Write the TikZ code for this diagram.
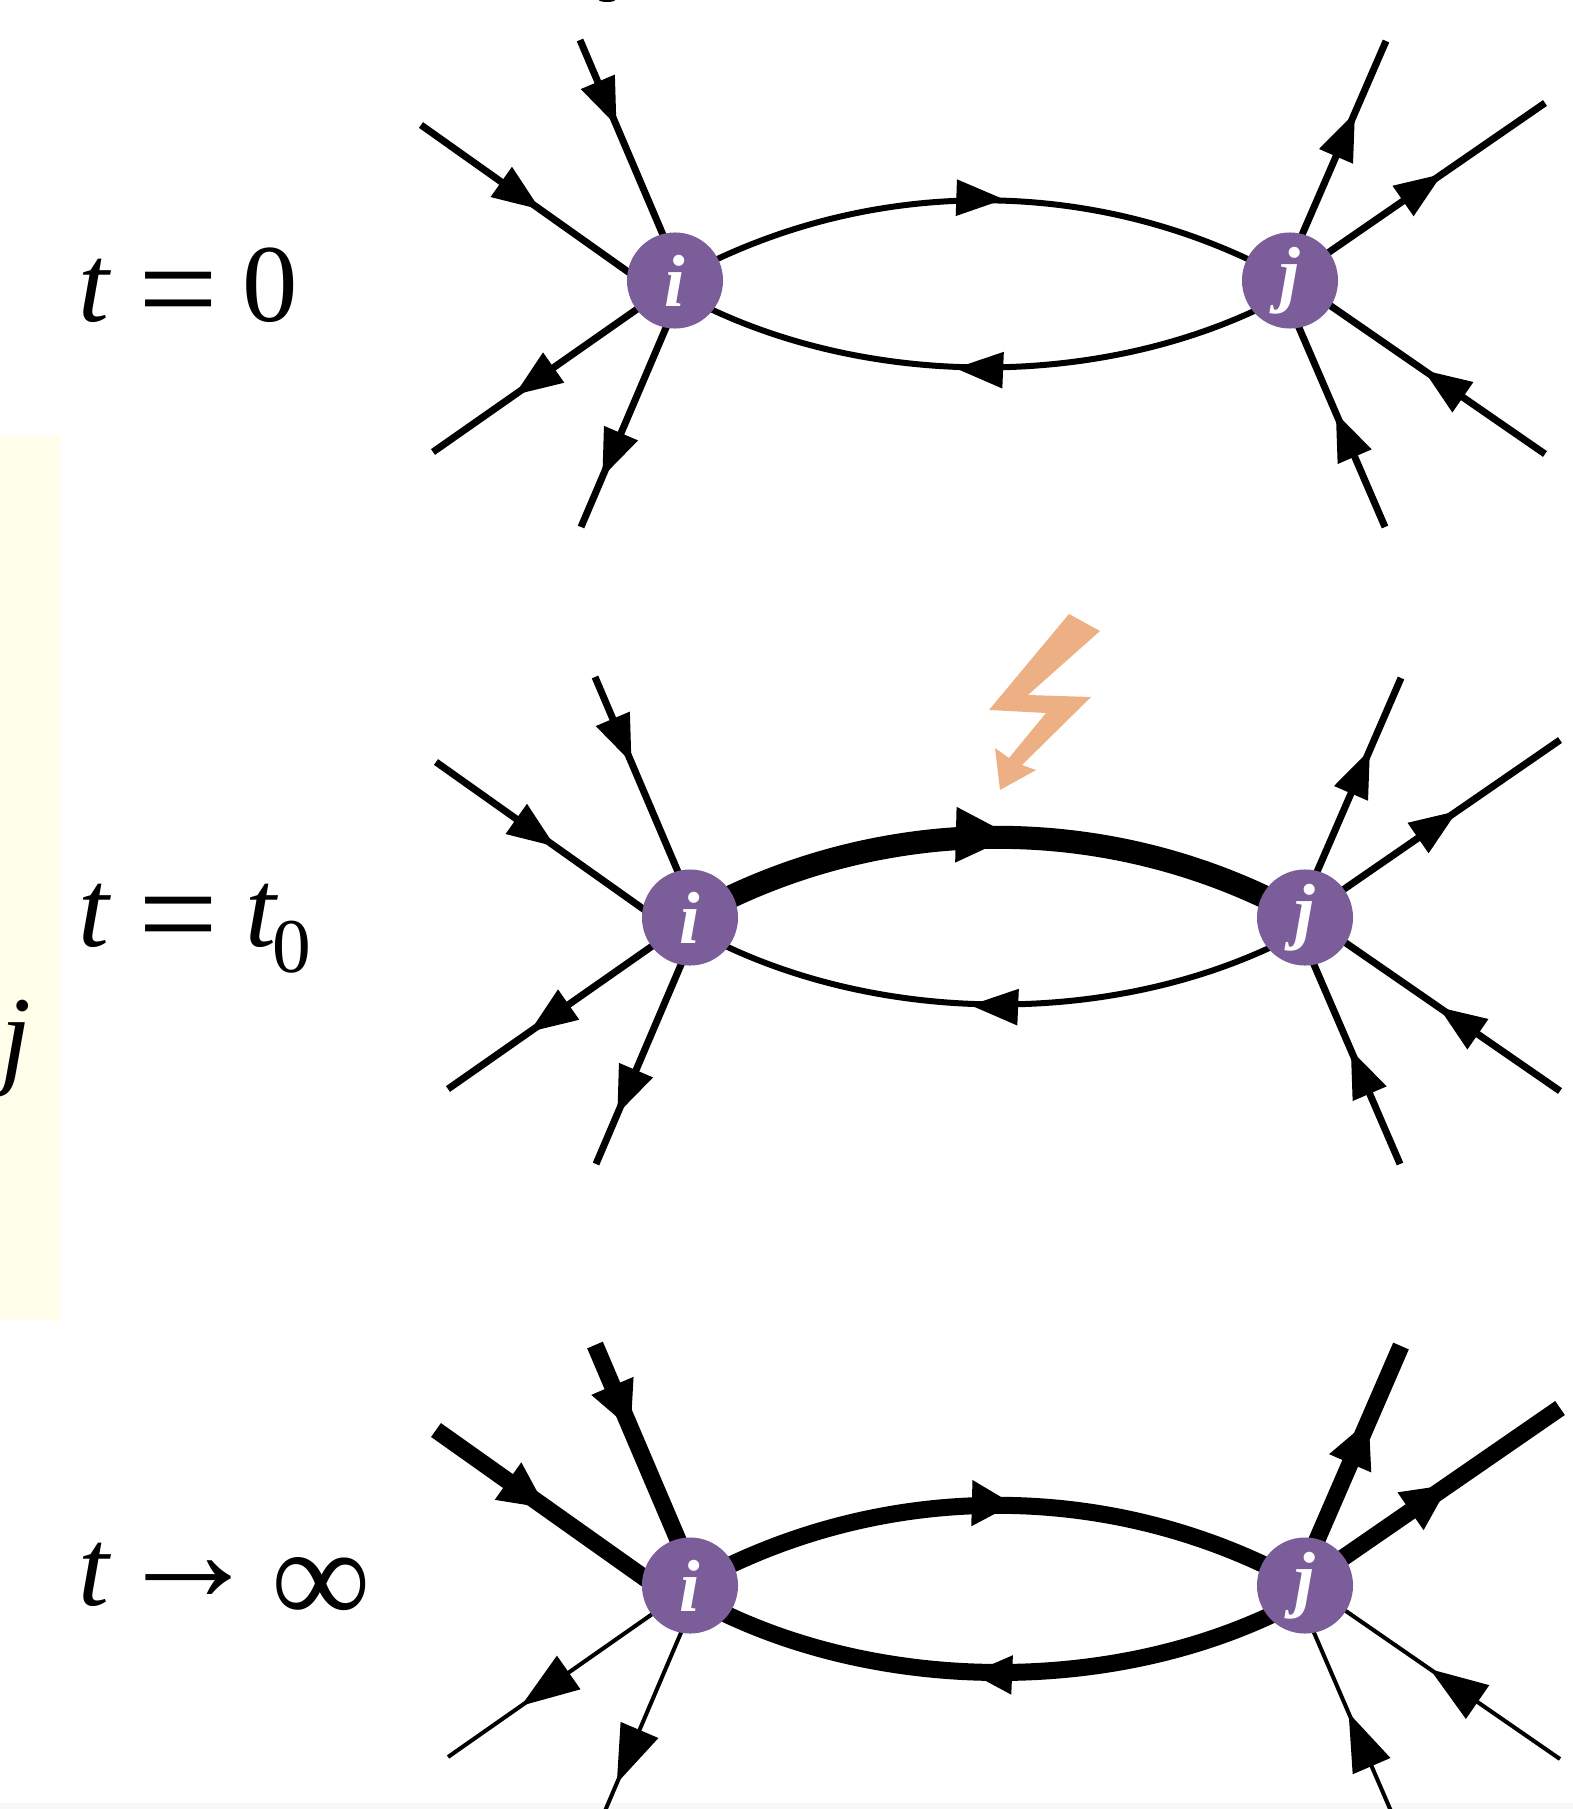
\documentclass[tikz,border=0pt]{standalone}
\usepackage{fontspec}
\setmainfont{Liberation Serif}
\usetikzlibrary{arrows.meta,decorations.markings,backgrounds}
\definecolor{sitepurple}{HTML}{7B5E99}
\definecolor{boltorange}{HTML}{EDB084}
\definecolor{boxyellow}{HTML}{FFFEEB}
\definecolor{edgegray}{HTML}{F8F8F8}
\tikzset{
  site/.style={circle,fill=sitepurple,text=white,minimum size=.96cm,inner sep=0pt,font=\fontsize{21}{21}\selectfont\bfseries\itshape},
  timelabel/.style={anchor=base west,inner sep=0pt,font=\fontsize{31.5}{31.5}\selectfont},
  headl/.store in=\headl,headw/.store in=\headw,headl=.48cm,headw=.35cm,
  flow/.style={postaction={decorate,decoration={markings,mark=at position #1 with {\arrow{Triangle[length=\headl,width=\headw]}}}}},
  toward/.style={line width=#1,shorten >=-.12cm},
  away/.style={line width=#1,shorten <=-.12cm},
  arc/.style={line width=#1,shorten >=-.12cm,shorten <=-.12cm},
  upper/.style={bend left=26,looseness=.877},
  lower/.style={bend left=26,looseness=.83}
}
% the two sites and the free leg ends of one panel
\newcommand{\panelsites}[1]{
  \node[site] (i#1) at (675,280.5) {i};
  \node[site] (j#1) at (1290,280.5) {j};
  \coordinate (ula#1) at (421,125);
  \coordinate (ulb#1) at (580,40);
  \coordinate (lla#1) at (433,452);
  \coordinate (llb#1) at (581,527);
  \coordinate (ura#1) at (1386,41);
  \coordinate (urb#1) at (1545,103);
  \coordinate (lra#1) at (1545,454);
  \coordinate (lrb#1) at (1385,527);
}
\newcommand{\wideeq}{\hspace{.26em}\raisebox{-.14cm}{\scalebox{1.28}[1.25]{=}}\hspace{.22em}}
\begin{document}
\begin{tikzpicture}[x=0.01cm,y=-0.01cm]
  \useasboundingbox (0,0) rectangle (1573,1809);
  \clip (0,0) rectangle (1573,1809);
  % side box, bottom strip and the cut-off letters
  \begin{scope}[on background layer]
    \fill[boxyellow] (0,436) rectangle (60,1320);
    \fill[edgegray] (0,1803) rectangle (1573,1809);
  \end{scope}
  \node[timelabel] (sidej) at (0,1073) {\itshape j};
  \fill (607,0) ellipse (8 and 2);
  % time labels
  \node[timelabel] (tzero) at (78,321) {\itshape t\upshape\wideeq 0};
  \node[timelabel] (tstart) at (78,946) {\itshape t\upshape\wideeq\hspace{.03em}\itshape t\upshape\hspace{-.04em}\raisebox{-.24em}{\fontsize{22}{22}\selectfont 0}};
  \node[timelabel] (tinf) at (78,1605) {\itshape t\upshape\hspace{.06em}\raisebox{.03em}{\scalebox{1.3}{→}}\hspace{.1em}\raisebox{-.19cm}{\scalebox{1.26}{∞}}};
  % t = 0
  \begin{scope}
    \panelsites{0}
    \begin{scope}[on background layer]
      \draw[toward=.07cm,flow=.58] (ula0) -- (i0.169);
      \draw[toward=.07cm,flow=.445] (ulb0) -- (i0.105);
      \draw[away=.07cm,flow=.60] (i0.217) -- (lla0);
      \draw[away=.07cm,flow=.75] (i0.259) -- (llb0);
      \draw[away=.07cm,flow=.63] (j0.75) -- (ura0);
      \draw[away=.07cm,flow=.525] (j0.36) -- (urb0);
      \draw[toward=.07cm,flow=.57] (lra0) -- (j0.-32);
      \draw[toward=.07cm,flow=.576] (lrb0) -- (j0.-79);
      \draw[arc=.06cm,flow=.54] (i0.27) to[upper] (j0.153);
      \draw[arc=.06cm,flow=.55] (j0.220) to[lower] (i0.-38);
    \end{scope}
  \end{scope}
  % t = t0
  \begin{scope}[shift={(15,637)}]
    \panelsites{1}
    \begin{scope}[on background layer]
      \draw[toward=.07cm,flow=.58] (ula1) -- (i1.169);
      \draw[toward=.07cm,flow=.445] (ulb1) -- (i1.105);
      \draw[away=.07cm,flow=.60] (i1.217) -- (lla1);
      \draw[away=.07cm,flow=.75] (i1.259) -- (llb1);
      \draw[away=.07cm,flow=.63] (j1.75) -- (ura1);
      \draw[away=.07cm,flow=.525] (j1.36) -- (urb1);
      \draw[toward=.07cm,flow=.57] (lra1) -- (j1.-32);
      \draw[toward=.07cm,flow=.576] (lrb1) -- (j1.-79);
      \draw[arc=.23cm,headl=.58cm,headw=.51cm,flow=.53] (i1.27) to[upper] (j1.153);
      \draw[arc=.06cm,flow=.55] (j1.220) to[lower] (i1.-38);
    \end{scope}
  \end{scope}
  % lightning
  \fill[boltorange] (1069,614) -- (1100,631) -- (1028,695) -- (1091,697) -- (1022,765) -- (1036,770) -- (1000,790) -- (995,748) -- (1009,758) -- (1046,713) -- (989,710) -- cycle;
  % t to infinity
  \begin{scope}[shift={(15,1305)}]
    \panelsites{2}
    \begin{scope}[on background layer]
      \draw[toward=.17cm,headw=.42cm,flow=.54] (ula2) -- (i2.169);
      \draw[toward=.17cm,headw=.42cm,flow=.44] (ulb2) -- (i2.105);
      \draw[away=.04cm,headl=.58cm,headw=.4cm,flow=.64] (i2.217) -- (lla2);
      \draw[away=.04cm,headl=.58cm,headw=.4cm,flow=.755] (i2.259) -- (llb2);
      \draw[away=.17cm,headw=.42cm,flow=.62] (j2.75) -- (ura2);
      \draw[away=.17cm,headw=.42cm,flow=.49] (j2.36) -- (urb2);
      \draw[toward=.04cm,headl=.58cm,headw=.4cm,flow=.61] (lra2) -- (j2.-32);
      \draw[toward=.04cm,headl=.58cm,headw=.4cm,flow=.60] (lrb2) -- (j2.-79);
      \draw[arc=.17cm,headl=.42cm,headw=.43cm,flow=.53] (i2.27) to[upper] (j2.153);
      \draw[arc=.17cm,headl=.42cm,headw=.36cm,flow=.55] (j2.220) to[lower] (i2.-38);
    \end{scope}
  \end{scope}
\end{tikzpicture}
\end{document}
